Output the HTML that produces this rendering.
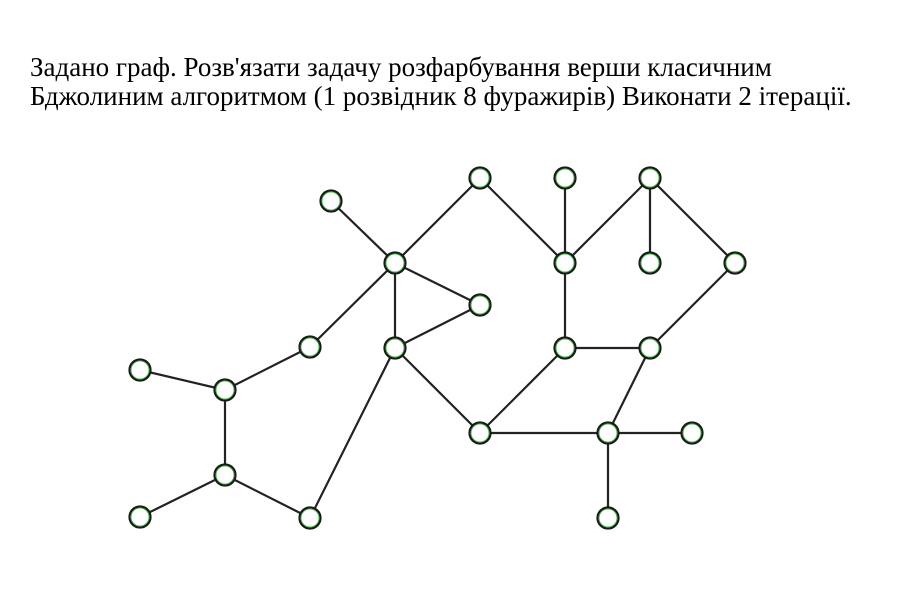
<!DOCTYPE html>
<html><head><meta charset="utf-8"><style>
body{margin:0;background:#fff;width:910px;height:597px;overflow:hidden;position:relative}
.t{position:absolute;left:30px;top:53px;font-family:"Liberation Serif",serif;font-size:27px;line-height:29px;color:#000;white-space:nowrap}
svg{position:absolute;left:0;top:0}
</style></head><body>
<div class="t">Задано граф. Розв'язати задачу розфарбування верши класичним<br>Бджолиним алгоритмом (1 розвідник 8 фуражирів) Виконати 2 ітерації.</div>
<svg width="910" height="597">
<g stroke="#222" stroke-width="2.2">
<line x1="331" y1="201" x2="395" y2="263"/>
<line x1="395" y1="263" x2="480" y2="178"/>
<line x1="480" y1="178" x2="565" y2="263"/>
<line x1="565" y1="178" x2="565" y2="263"/>
<line x1="565" y1="263" x2="650" y2="178"/>
<line x1="650" y1="178" x2="650" y2="263"/>
<line x1="650" y1="178" x2="735" y2="263"/>
<line x1="735" y1="263" x2="650" y2="348"/>
<line x1="565" y1="263" x2="565" y2="348"/>
<line x1="565" y1="348" x2="650" y2="348"/>
<line x1="650" y1="348" x2="608" y2="433"/>
<line x1="565" y1="348" x2="480" y2="433"/>
<line x1="480" y1="433" x2="608" y2="433"/>
<line x1="608" y1="433" x2="692" y2="433"/>
<line x1="608" y1="433" x2="608" y2="518"/>
<line x1="395" y1="263" x2="480" y2="305"/>
<line x1="395" y1="263" x2="395" y2="348"/>
<line x1="480" y1="305" x2="395" y2="348"/>
<line x1="395" y1="348" x2="480" y2="433"/>
<line x1="395" y1="263" x2="310" y2="347"/>
<line x1="310" y1="347" x2="225" y2="390"/>
<line x1="140" y1="370" x2="225" y2="390"/>
<line x1="225" y1="390" x2="225" y2="475"/>
<line x1="225" y1="475" x2="140" y2="517"/>
<line x1="225" y1="475" x2="310" y2="518"/>
<line x1="395" y1="348" x2="310" y2="518"/>
</g>
<g fill="#fff" stroke="#1a1a1a" stroke-width="2.2">
<circle cx="331" cy="201" r="10.5"/><circle cx="395" cy="263" r="10.5"/><circle cx="480" cy="178" r="10.5"/>
<circle cx="565" cy="178" r="10.5"/><circle cx="650" cy="178" r="10.5"/><circle cx="565" cy="263" r="10.5"/>
<circle cx="650" cy="263" r="10.5"/><circle cx="735" cy="263" r="10.5"/><circle cx="480" cy="305" r="10.5"/>
<circle cx="310" cy="347" r="10.5"/><circle cx="395" cy="348" r="10.5"/><circle cx="565" cy="348" r="10.5"/>
<circle cx="650" cy="348" r="10.5"/><circle cx="140" cy="370" r="10.5"/><circle cx="225" cy="390" r="10.5"/>
<circle cx="480" cy="433" r="10.5"/><circle cx="608" cy="433" r="10.5"/><circle cx="692" cy="433" r="10.5"/>
<circle cx="225" cy="475" r="10.5"/><circle cx="140" cy="517" r="10.5"/><circle cx="310" cy="518" r="10.5"/>
<circle cx="608" cy="518" r="10.5"/>
</g>
<g fill="none" stroke="#2bb52b" stroke-width="0.8">
<circle cx="331" cy="201" r="9"/><circle cx="395" cy="263" r="9"/><circle cx="480" cy="178" r="9"/>
<circle cx="565" cy="178" r="9"/><circle cx="650" cy="178" r="9"/><circle cx="565" cy="263" r="9"/>
<circle cx="650" cy="263" r="9"/><circle cx="735" cy="263" r="9"/><circle cx="480" cy="305" r="9"/>
<circle cx="310" cy="347" r="9"/><circle cx="395" cy="348" r="9"/><circle cx="565" cy="348" r="9"/>
<circle cx="650" cy="348" r="9"/><circle cx="140" cy="370" r="9"/><circle cx="225" cy="390" r="9"/>
<circle cx="480" cy="433" r="9"/><circle cx="608" cy="433" r="9"/><circle cx="692" cy="433" r="9"/>
<circle cx="225" cy="475" r="9"/><circle cx="140" cy="517" r="9"/><circle cx="310" cy="518" r="9"/>
<circle cx="608" cy="518" r="9"/>
</g>
</svg>
</body></html>
